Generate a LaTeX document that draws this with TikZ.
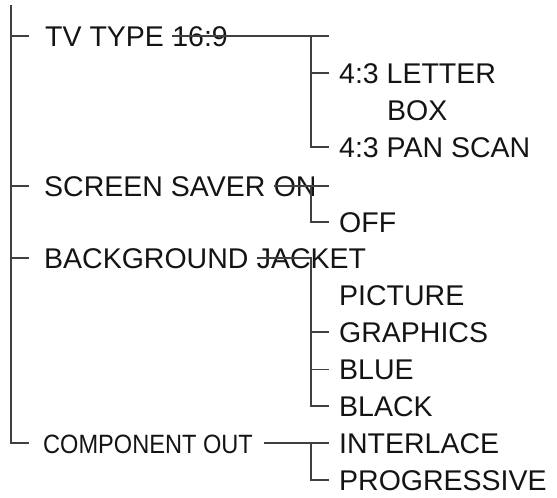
\documentclass[tikz,border=0pt]{standalone}
\usepackage{fontspec}
\setmainfont{Liberation Sans}
\newfontfamily\narrowfont[FakeStretch=0.89]{Liberation Sans}
\usetikzlibrary{positioning}

\begin{document}
\begin{tikzpicture}[x=1pt,y=-1pt,
		item/.style={anchor=base west,inner sep=0pt,font=\fontsize{28.5}{34}\selectfont,text=black!92},
		small item/.style={item,font=\narrowfont\fontsize{26.5}{30}\selectfont},
		tree/.style={black!75,line width=1.6pt}]
			
			\useasboundingbox (0,0) rectangle (557,498);
			
			\coordinate (top) at (11,5);
			\coordinate (br) at (311,0);
			\coordinate (brend) at (329,0);
			
			% first level
			\node[item] (tv) at (45,46) {TV TYPE};
			\node[item] (tvval) at ([xshift=8pt]tv.base east) {16:9};
			\node[item] (screen) at (44,196) {SCREEN SAVER};
			\node[item] (onval) at ([xshift=8pt]screen.base east) {ON};
			\node[item] (bg) at (44,268) {BACKGROUND};
			\node[item] (jacket) at ([xshift=8pt]bg.base east) {JACKET};
			\node[small item] (comp) at (43,453) {COMPONENT OUT};
			
			% second level
			\node[item] (letter) at (339,83) {4:3 LETTER};
			\node[item] (box) at (387,120) {BOX};
			\node[item] (pan) at (339,157) {4:3 PAN SCAN};
			\node[item] (off) at (339,232) {OFF};
			\node[item] (picture) at (339,305) {PICTURE};
			\node[item] (graphics) at (339,342) {GRAPHICS};
			\node[item] (blue) at (339,379) {BLUE};
			\node[item] (black) at (339,416) {BLACK};
			\node[item] (inter) at (339,453) {INTERLACE};
			\node[item] (prog) at (339,490) {PROGRESSIVE};
			
			% trunk
			\draw[tree] (top) |- ++(18,438);
			\draw[tree] (top |- tv.west) -- ++(18,0);
			\draw[tree] (top |- screen.west) -- ++(18,0);
			\draw[tree] (top |- bg.west) -- ++(18,0);
			
			% branches
			\draw[tree] (tvval.west) -- (tvval.west -| brend);
			\draw[tree] (tvval.west -| br) |- (pan.west -| brend);
			\draw[tree] (letter.west -| br) -- (letter.west -| brend);
			
			\draw[tree] (onval.west) -- (onval.west -| brend);
			\draw[tree] (onval.west -| br) |- (off.west -| brend);
			
			\draw[tree] (jacket.west) -- (jacket.west -| br) |- (black.west -| brend);
			\draw[tree] (graphics.west -| br) -- (graphics.west -| brend);
			\draw[tree] (blue.west -| br) -- (blue.west -| brend);
			
			\draw[tree] ([xshift=11pt]comp.east |- inter.west) -- (inter.west -| brend);
			\draw[tree] (inter.west -| br) |- (prog.west -| brend);
			
		\end{tikzpicture}
\end{document}
